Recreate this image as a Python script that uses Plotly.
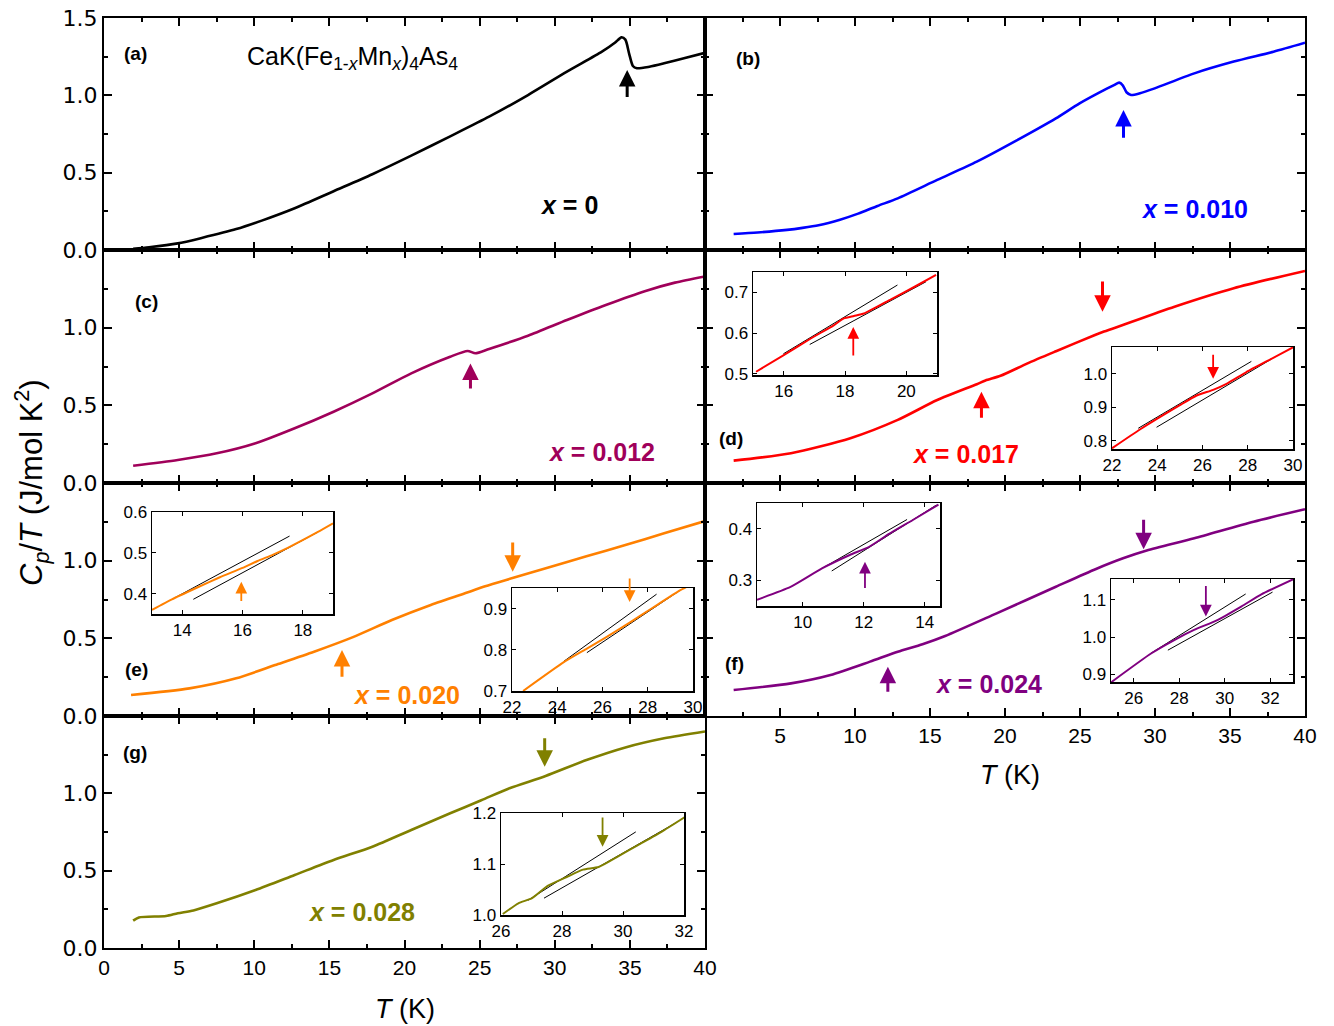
import plotly.graph_objects as go

W, H = 1334, 1026
def fx(px): return px / W
def fy(py): return 1 - py / H

# ---------------- data: main panels (T in K, Cp/T in J/mol K^2) ----------------
T_a = [1.94, 3.0, 4.91, 6.5, 8.8, 10.5, 12.69, 15.28, 17.86, 20.45, 23.04, 25.63, 28.22, 30.81, 33.14, 34.0, 34.44, 34.7, 34.95, 35.2, 35.47, 36.3, 37.28, 38.6, 40.0]
C_a = [0.008, 0.018, 0.043, 0.078, 0.135, 0.19, 0.27, 0.38, 0.49, 0.61, 0.735, 0.862, 1.002, 1.153, 1.282, 1.34, 1.375, 1.36, 1.27, 1.19, 1.175, 1.185, 1.207, 1.24, 1.275]

T_b = [1.91, 3.5, 5.47, 6.5, 7.57, 9.0, 10.21, 11.5, 12.85, 15.48, 18.12, 20.75, 23.39, 24.97, 26.82, 27.3, 27.61, 27.85, 28.1, 28.4, 29.0, 29.98, 32.62, 35.25, 37.9, 40.0]
C_b = [0.103, 0.113, 0.13, 0.143, 0.16, 0.196, 0.235, 0.285, 0.334, 0.453, 0.571, 0.707, 0.851, 0.948, 1.045, 1.068, 1.082, 1.065, 1.02, 1.002, 1.013, 1.045, 1.142, 1.218, 1.282, 1.34]

T_c = [1.94, 4.91, 7.5, 10.09, 12.69, 15.28, 17.86, 20.45, 23.04, 24.2, 24.72, 25.63, 28.22, 30.81, 33.4, 35.99, 38.0, 40.0]
C_c = [0.111, 0.148, 0.191, 0.256, 0.352, 0.459, 0.577, 0.706, 0.813, 0.85, 0.835, 0.863, 0.948, 1.049, 1.146, 1.235, 1.29, 1.33]

T_d = [1.91, 5.73, 9.69, 12.85, 15.48, 18.12, 18.7, 19.7, 21.5, 23.4, 26.0, 26.6, 27.3, 31.3, 35.25, 40.0]
C_d = [0.144, 0.191, 0.288, 0.406, 0.534, 0.636, 0.66, 0.69, 0.77, 0.848, 0.953, 0.975, 0.998, 1.135, 1.254, 1.365]

T_e = [1.8, 5.69, 8.8, 11.39, 13.98, 16.57, 19.16, 21.75, 24.33, 25.37, 27.19, 29.52, 32.11, 34.7, 37.28, 40.0]
C_e = [0.135, 0.178, 0.243, 0.328, 0.414, 0.508, 0.618, 0.715, 0.8, 0.835, 0.888, 0.955, 1.028, 1.101, 1.176, 1.255]

T_f = [1.91, 5.73, 8.37, 11.0, 12.85, 14.5, 16.01, 19.44, 23.39, 26.03, 27.87, 29.45, 32.62, 36.57, 40.0]
C_f = [0.167, 0.21, 0.264, 0.35, 0.414, 0.462, 0.515, 0.661, 0.832, 0.945, 1.015, 1.065, 1.144, 1.251, 1.331]

T_g = [1.94, 2.32, 4.13, 4.91, 5.95, 7.5, 10.09, 12.69, 15.28, 17.86, 20.45, 23.04, 25.11, 26.99, 29.39, 32.11, 34.7, 37.28, 40.0]
C_g = [0.177, 0.198, 0.207, 0.225, 0.243, 0.289, 0.375, 0.472, 0.569, 0.655, 0.763, 0.871, 0.955, 1.033, 1.112, 1.215, 1.297, 1.356, 1.40]

# ---------------- data: insets ----------------
T_d1 = [15.1, 15.99, 16.87, 17.63, 17.96, 18.29, 18.62, 19.5, 20.3, 20.97]
C_d1 = [0.505, 0.545, 0.586, 0.619, 0.636, 0.642, 0.648, 0.683, 0.715, 0.743]
Lu_d1 = ([15.99, 19.71], [0.549, 0.718])
Ll_d1 = ([16.85, 20.64], [0.572, 0.726])

T_d2 = [22.0, 23.25, 25.0, 25.74, 26.47, 27.06, 27.94, 29.0, 30.0]
C_d2 = [0.777, 0.834, 0.906, 0.935, 0.952, 0.97, 1.005, 1.043, 1.079]
Lu_d2 = ([23.16, 28.16], [0.837, 1.037])
Ll_d2 = ([23.97, 29.05], [0.840, 1.044])

T_e1 = [13.0, 13.66, 14.5, 15.25, 16.0, 16.5, 17.0, 17.5, 18.5, 19.0]
C_e1 = [0.36, 0.386, 0.415, 0.44, 0.463, 0.48, 0.495, 0.512, 0.551, 0.572]
Lu_e1 = ([13.66, 17.56], [0.386, 0.541])
Ll_e1 = ([14.37, 18.5], [0.386, 0.551])

T_e2 = [22.49, 24.29, 25.31, 26.17, 27.2, 28.22, 29.42, 29.7]
C_e2 = [0.70, 0.77, 0.803, 0.831, 0.866, 0.902, 0.944, 0.952]
Lu_e2 = ([24.29, 28.39], [0.772, 0.935])
Ll_e2 = ([25.31, 29.42], [0.793, 0.944])

T_f1 = [8.5, 9.6, 10.63, 11.54, 12.18, 12.83, 13.61, 14.45]
C_f1 = [0.262, 0.287, 0.323, 0.349, 0.365, 0.39, 0.417, 0.447]
Lu_f1 = ([10.63, 13.42], [0.323, 0.418])
Ll_f1 = ([10.95, 14.38], [0.318, 0.446])

T_f2 = [25.0, 26.76, 27.78, 28.65, 29.7, 30.74, 31.61, 33.0]
C_f2 = [0.879, 0.956, 0.992, 1.019, 1.046, 1.082, 1.114, 1.154]
Lu_f2 = ([26.76, 30.92], [0.957, 1.115])
Ll_f2 = ([27.5, 32.1], [0.965, 1.12])

T_g1 = [26.06, 26.57, 27.02, 27.53, 28.17, 28.69, 29.2, 29.84, 30.49, 31.26, 32.03]
C_g1 = [1.002, 1.023, 1.033, 1.057, 1.075, 1.089, 1.094, 1.115, 1.137, 1.163, 1.192]
Lu_g1 = ([26.89, 30.42], [1.029, 1.163])
Ll_g1 = ([27.41, 31.77], [1.033, 1.182])

# arrows: (T, tail value, tip value)
arr_a = [(34.82, 0.98, 1.164)]
arr_b = [(27.9, 0.716, 0.905)]
arr_c = [(24.39, 0.599, 0.77)]
arr_d = [(18.43, 0.41, 0.588), (26.5, 1.307, 1.103)]
arr_e = [(15.84, 0.243, 0.425), (27.2, 1.127, 0.929)]
arr_f = [(12.19, 0.146, 0.317), (29.24, 1.273, 1.073)]
arr_g = [(29.33, 1.366, 1.172)]
arr_d1 = [(18.27, 0.541, 0.615)]
arr_d2 = [(26.47, 1.061, 0.985)]
arr_e1 = [(15.96, 0.378, 0.429)]
arr_e2 = [(27.2, 0.977, 0.916)]
arr_f1 = [(12.04, 0.282, 0.336)]
arr_f2 = [(29.17, 1.14, 1.055)]
arr_g1 = [(29.33, 1.194, 1.134)]

labels = ["x = 0", "x = 0.010", "x = 0.012", "x = 0.017", "x = 0.020", "x = 0.024", "x = 0.028"]
colors = ["#000000", "#0000FF", "#A0005A", "#FF0000", "#FF8000", "#800080", "#808000"]

# ---------------- layout geometry (pixels) ----------------
main_boxes = [  # x0, x1, y0(top), y1(bottom)
    (104, 705, 18, 250), (705, 1305, 18, 250),
    (104, 705, 250, 483), (705, 1305, 250, 483),
    (104, 705, 483, 716), (705, 1305, 483, 716),
    (104, 705, 716, 948),
]
main_data = [(T_a, C_a), (T_b, C_b), (T_c, C_c), (T_d, C_d), (T_e, C_e), (T_f, C_f), (T_g, C_g)]
main_arrows = [arr_a, arr_b, arr_c, arr_d, arr_e, arr_f, arr_g]

insets = [
    (3, (753, 937, 272, 375), [15, 21], [0.497, 0.75], [16, 18, 20], [0.5, 0.6, 0.7], (T_d1, C_d1), (Lu_d1, Ll_d1), arr_d1),
    (3, (1112, 1293, 347, 449), [22, 30], [0.775, 1.08], [22, 24, 26, 28, 30], [0.8, 0.9, 1.0], (T_d2, C_d2), (Lu_d2, Ll_d2), arr_d2),
    (4, (152, 333, 512, 614), [13, 19], [0.35, 0.6], [14, 16, 18], [0.4, 0.5, 0.6], (T_e1, C_e1), (Lu_e1, Ll_e1), arr_e1),
    (4, (512, 693, 588, 691), [22, 30], [0.7, 0.95], [22, 24, 26, 28, 30], [0.7, 0.8, 0.9], (T_e2, C_e2), (Lu_e2, Ll_e2), arr_e2),
    (5, (757, 940, 503, 606), [8.5, 14.5], [0.25, 0.45], [10, 12, 14], [0.3, 0.4], (T_f1, C_f1), (Lu_f1, Ll_f1), arr_f1),
    (5, (1111, 1293, 579, 682), [25, 33], [0.88, 1.155], [26, 28, 30, 32], [0.9, 1.0, 1.1], (T_f2, C_f2), (Lu_f2, Ll_f2), arr_f2),
    (6, (501, 684, 813, 915), [26, 32], [1.0, 1.2], [26, 28, 30, 32], [1.0, 1.1, 1.2], (T_g1, C_g1), (Lu_g1, Ll_g1), arr_g1),
]

fig = go.Figure()
layout = dict(width=W, height=H, margin=dict(l=0, r=0, t=0, b=0, pad=0), autosize=False,
              paper_bgcolor="white", plot_bgcolor="rgba(0,0,0,0)", showlegend=False,
              font=dict(family="Liberation Sans, Arial, sans-serif", color="black"))
annotations = []

def ax_name(i, kind):
    return kind + ("" if i == 1 else str(i))

def add_arrows(arrs, xr, yr, color, width, size):
    for (t, tail, tip) in arrs:
        annotations.append(dict(x=t, y=tip, ax=t, ay=tail, xref=xr, yref=yr, axref=xr, ayref=yr,
                                text="", showarrow=True, arrowhead=2, arrowsize=size,
                                arrowwidth=width, arrowcolor=color, standoff=0, startstandoff=0))

xt_all = [0, 5, 10, 15, 20, 25, 30, 35, 40]
for i, (box, (T, C), arrs) in enumerate(zip(main_boxes, main_data, main_arrows)):
    n = i + 1
    x0, x1, y0, y1 = box
    col = colors[i]
    fig.add_trace(go.Scatter(x=T, y=C, mode="lines", line=dict(color=col, width=2.6, shape="spline", smoothing=0.7),
                             xaxis=ax_name(n, "x"), yaxis=ax_name(n, "y"), hoverinfo="skip"))
    left = (x0 == 104)
    if n == 7:
        xtv = xt_all; showx = True
    elif n == 6:
        xtv = xt_all[1:]; showx = True
    else:
        xtv = xt_all; showx = False
    ytv = [0, 0.5, 1.0, 1.5] if n == 1 else [0, 0.5, 1.0]
    layout[ax_name(n, "xaxis")] = dict(
        domain=[fx(x0), fx(x1)], range=[0, 40], anchor=ax_name(n, "y"), automargin=False,
        showline=True, linecolor="black", linewidth=2, mirror="allticks",
        ticks="inside", ticklen=8, tickwidth=2, tickcolor="black",
        tickmode="array", tickvals=xtv, ticktext=[str(v) for v in xtv], showticklabels=showx,
        tickfont=dict(family="Liberation Sans, Arial", size=21, color="black"),
        minor=dict(ticks="inside", ticklen=4, tickwidth=2, tickcolor="black", tickmode="linear", tick0=0, dtick=2.5),
        showgrid=False, zeroline=False, fixedrange=True)
    layout[ax_name(n, "yaxis")] = dict(
        domain=[fy(y1), fy(y0)], range=[0, 1.5], anchor=ax_name(n, "x"), automargin=False,
        showline=True, linecolor="black", linewidth=2, mirror="allticks",
        ticks="inside", ticklen=8, tickwidth=2, tickcolor="black",
        tickmode="array", tickvals=ytv, ticktext=["%.1f" % v for v in ytv], showticklabels=left,
        tickfont=dict(family="DejaVu Sans, sans-serif", size=22, color="black"),
        minor=dict(ticks="inside", ticklen=4, tickwidth=2, tickcolor="black", tickmode="linear", tick0=0, dtick=0.25),
        showgrid=False, zeroline=False, fixedrange=True)
    add_arrows(arrs, ax_name(n, "x"), ax_name(n, "y"), col, 3, 1.1)

for j, (parent, box, xr, yr, xtv, ytv, (T, C), (Lu, Ll), arrs) in enumerate(insets):
    n = 8 + j
    x0, x1, y0, y1 = box
    col = colors[parent]
    xa, ya = ax_name(n, "x"), ax_name(n, "y")
    for L in (Lu, Ll):
        fig.add_trace(go.Scatter(x=L[0], y=L[1], mode="lines", line=dict(color="black", width=1),
                                 xaxis=xa, yaxis=ya, hoverinfo="skip"))
    fig.add_trace(go.Scatter(x=T, y=C, mode="lines", line=dict(color=col, width=2, shape="spline", smoothing=0.5),
                             xaxis=xa, yaxis=ya, hoverinfo="skip"))
    layout[ax_name(n, "xaxis")] = dict(
        domain=[fx(x0), fx(x1)], range=xr, anchor=ya, automargin=False,
        showline=True, linecolor="black", linewidth=1.5, mirror="allticks",
        ticks="inside", ticklen=4, tickwidth=1, tickcolor="black",
        tickmode="array", tickvals=xtv, ticktext=[str(v) for v in xtv],
        tickfont=dict(family="Liberation Sans, Arial", size=17, color="black"),
        showgrid=False, zeroline=False, fixedrange=True)
    layout[ax_name(n, "yaxis")] = dict(
        domain=[fy(y1), fy(y0)], range=yr, anchor=xa, automargin=False,
        showline=True, linecolor="black", linewidth=1.5, mirror="allticks",
        ticks="inside", ticklen=4, tickwidth=1, tickcolor="black",
        tickmode="array", tickvals=ytv, ticktext=["%.1f" % v for v in ytv],
        tickfont=dict(family="Liberation Sans, Arial", size=17, color="black"),
        showgrid=False, zeroline=False, fixedrange=True)
    add_arrows(arrs, xa, ya, col, 1.8, 1.3)

# ---------------- texts ----------------
def txt(px, py, s, size, color="black", xanchor="center", angle=0, family="Liberation Sans, Arial"):
    annotations.append(dict(x=fx(px), y=fy(py), xref="paper", yref="paper", text=s, showarrow=False,
                            xanchor=xanchor, yanchor="middle", textangle=angle,
                            font=dict(family=family, size=size, color=color)))

panel_letters = ["(a)", "(b)", "(c)", "(d)", "(e)", "(f)", "(g)"]
letter_pos = [(135, 54), (748, 59), (146, 302), (731, 439), (136, 669), (734, 663), (135, 752)]
for s, (px, py) in zip(panel_letters, letter_pos):
    txt(px, py, "<b>%s</b>" % s, 19)

label_pos = [(569, 205), (1194, 209), (601, 452), (965, 454), (406, 695), (988, 684), (361, 912)]
for s, (px, py), col in zip(labels, label_pos, colors):
    v = s.split("=")[1].strip()
    txt(px, py, "<b><i>x</i> = %s</b>" % v, 25, col)

txt(352, 58, "CaK(Fe<sub>1-<i>x</i></sub>Mn<sub><i>x</i></sub>)<sub>4</sub>As<sub>4</sub>", 25)
txt(31, 483, "<i>C</i><sub><i>p</i></sub>/<i>T</i> (J/mol K<sup>2</sup>)", 31, angle=-90)
txt(405, 1009, "<i>T</i> (K)", 27)
txt(1010, 775, "<i>T</i> (K)", 27)

layout["annotations"] = annotations
fig.update_layout(**layout)
fig.write_html("out.html", config={"displayModeBar": False, "staticPlot": True},
               post_script="document.body.style.margin='0px';document.body.style.padding='0px';"
                           "document.documentElement.style.overflow='hidden';")
